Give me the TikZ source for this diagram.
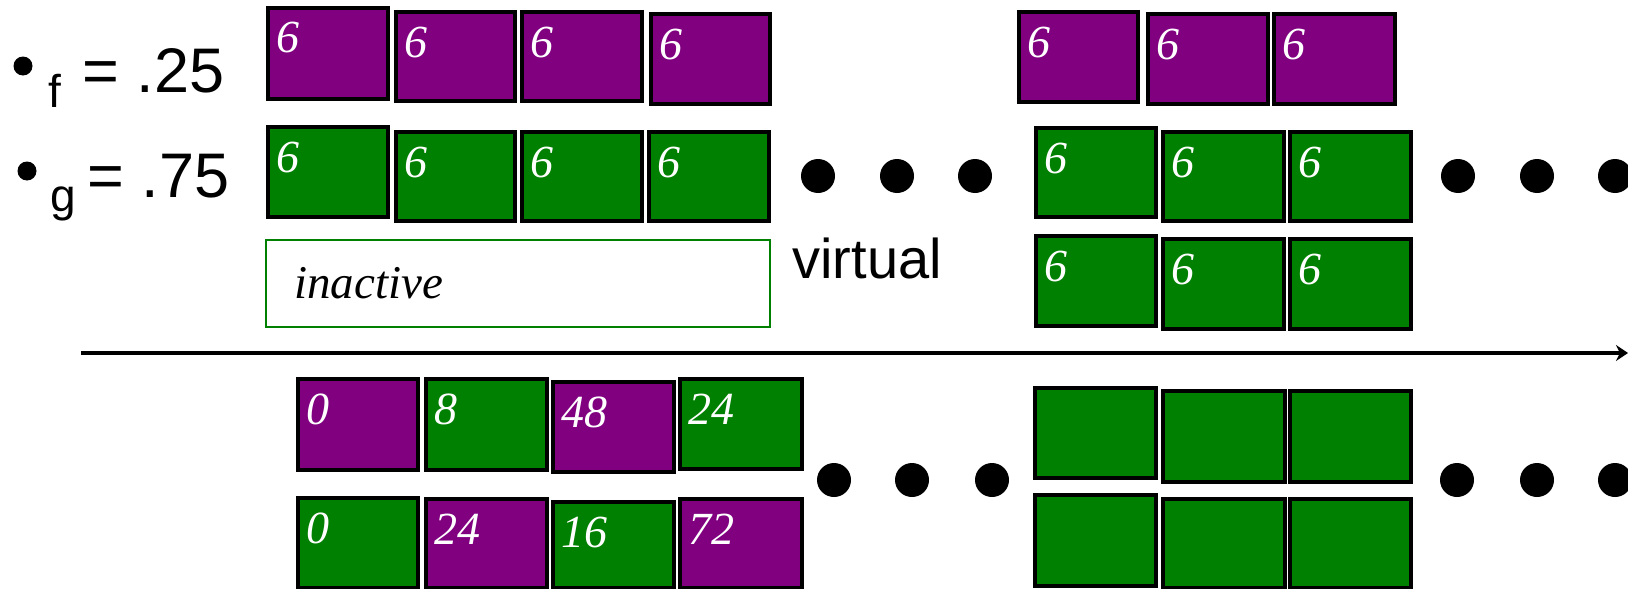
\documentclass[tikz,border=0pt]{standalone}
\usepackage{fontspec}
\setmainfont{Liberation Serif}
\setsansfont{Liberation Sans}
\usetikzlibrary{arrows.meta}
\definecolor{cellpurple}{RGB}{128,0,128}
\definecolor{cellgreen}{RGB}{0,128,0}
\tikzset{
  cell/.style={rectangle, draw=black, line width=1.75pt, inner sep=0pt, outer sep=0pt},
  celltext/.style={text=white, font=\itshape\fontsize{23}{23}\selectfont, inner sep=0pt, anchor=base west},
  dotmark/.style={circle, fill=black, inner sep=0pt, minimum size=17pt},
  bulletdot/.style={circle, fill=black, inner sep=0pt, minimum size=9.5pt},
  sublabel/.style={font=\sffamily\fontsize{23}{23}\selectfont, inner sep=0pt, anchor=base west},
  eqlabel/.style={font=\sffamily\fontsize{31.5}{31.5}\selectfont, inner sep=0pt, anchor=base west},
  inactivebox/.style={rectangle, draw=cellgreen, line width=1.2pt, fill=white, inner sep=0pt, outer sep=0pt},
  plaintext/.style={inner sep=0pt, anchor=base west},
  timeline/.style={line width=2.4pt, -{Stealth[length=6pt,width=8pt]}}
}
% a filled cell with its number in the upper left corner
\newcommand\cellbox[7]{%
  \node[cell, fill=#6, anchor=north west,
        minimum width={(#4-#2)*0.5pt}, minimum height={(#5-#3)*0.5pt}] (#1) at (#2,#3) {};
  \node[celltext] (#1-num) at ([shift={(8,45)}]#1.north west) {#7};
}
% a filled cell without a number
\newcommand\blankcell[6]{%
  \node[cell, fill=#6, anchor=north west,
        minimum width={(#4-#2)*0.5pt}, minimum height={(#5-#3)*0.5pt}] (#1) at (#2,#3) {};
}
\begin{document}
\begin{tikzpicture}[x=0.5pt, y=-0.5pt]
\useasboundingbox (0,0) rectangle (1628,589);

% legend
\node[bulletdot] (b1) at (23,66) {};
\node[sublabel] (fsub) at (48,107) {f};
\node[eqlabel] (feq) at (82,92) {= .25};
\node[bulletdot] (b2) at (27,171) {};
\node[sublabel] (gsub) at (50,211) {g};
\node[eqlabel] (geq) at (87,197) {= .75};

% upper half, left group
\cellbox{p1}{268}{8}{388}{99}{cellpurple}{6}
\cellbox{p2}{396}{12}{515}{101}{cellpurple}{6}
\cellbox{p3}{522}{12}{642}{101}{cellpurple}{6}
\cellbox{p4}{651}{14}{770}{104}{cellpurple}{6}
\cellbox{g1}{268}{127}{388}{217}{cellgreen}{6}
\cellbox{g2}{396}{132}{515}{221}{cellgreen}{6}
\cellbox{g3}{522}{132}{642}{221}{cellgreen}{6}
\cellbox{g4}{649}{132}{769}{221}{cellgreen}{6}
\node[inactivebox, anchor=north west, minimum width=252pt, minimum height=43.5pt] (inact) at (266,240) {};
\node[plaintext, font=\itshape\fontsize{23.5}{23.5}\selectfont] (inact-t) at (294,298) {inactive};

\node[plaintext, font=\sffamily\fontsize{28}{28}\selectfont] (virt) at (792,278) {virtual};

% dots between the groups
\node[dotmark] (ud1) at (818,176) {};
\node[dotmark] (ud2) at (897,176) {};
\node[dotmark] (ud3) at (975,176) {};
\node[dotmark] (ud4) at (1458,176) {};
\node[dotmark] (ud5) at (1537,176) {};
\node[dotmark] (ud6) at (1615,176) {};

% upper half, right group
\cellbox{rp1}{1019}{12}{1138}{102}{cellpurple}{6}
\cellbox{rp2}{1148}{14}{1268}{104}{cellpurple}{6}
\cellbox{rp3}{1274}{14}{1395}{104}{cellpurple}{6}
\cellbox{rg1}{1036}{128}{1156}{217}{cellgreen}{6}
\cellbox{rg2}{1163}{132}{1284}{221}{cellgreen}{6}
\cellbox{rg3}{1290}{132}{1411}{221}{cellgreen}{6}
\cellbox{rh1}{1036}{236}{1156}{326}{cellgreen}{6}
\cellbox{rh2}{1163}{239}{1284}{329}{cellgreen}{6}
\cellbox{rh3}{1290}{239}{1411}{329}{cellgreen}{6}

% time axis
\coordinate (tstart) at (81,353);
\coordinate (tend) at (1628,353);
\draw[timeline] (tstart) -- (tend);

% lower half, left group
\cellbox{a1}{298}{379}{418}{470}{cellpurple}{0}
\cellbox{a2}{426}{379}{547}{470}{cellgreen}{8}
\cellbox{a3}{553}{382}{674}{472}{cellpurple}{48}
\cellbox{a4}{680}{379}{802}{469}{cellgreen}{24}
\cellbox{c1}{298}{498}{418}{588}{cellgreen}{0}
\cellbox{c2}{426}{499}{547}{588}{cellpurple}{24}
\cellbox{c3}{553}{502}{674}{588}{cellgreen}{16}
\cellbox{c4}{680}{499}{802}{588}{cellpurple}{72}

% dots between the lower groups
\node[dotmark] (ld1) at (834,480) {};
\node[dotmark] (ld2) at (912,480) {};
\node[dotmark] (ld3) at (992,480) {};
\node[dotmark] (ld4) at (1457,480) {};
\node[dotmark] (ld5) at (1537,480) {};
\node[dotmark] (ld6) at (1615,480) {};

% lower half, right group
\blankcell{e1}{1035}{388}{1156}{478}{cellgreen}
\blankcell{e2}{1163}{391}{1285}{482}{cellgreen}
\blankcell{e3}{1290}{391}{1411}{482}{cellgreen}
\blankcell{f1}{1035}{495}{1156}{586}{cellgreen}
\blankcell{f2}{1163}{499}{1285}{588}{cellgreen}
\blankcell{f3}{1290}{499}{1411}{588}{cellgreen}
\end{tikzpicture}
\end{document}
